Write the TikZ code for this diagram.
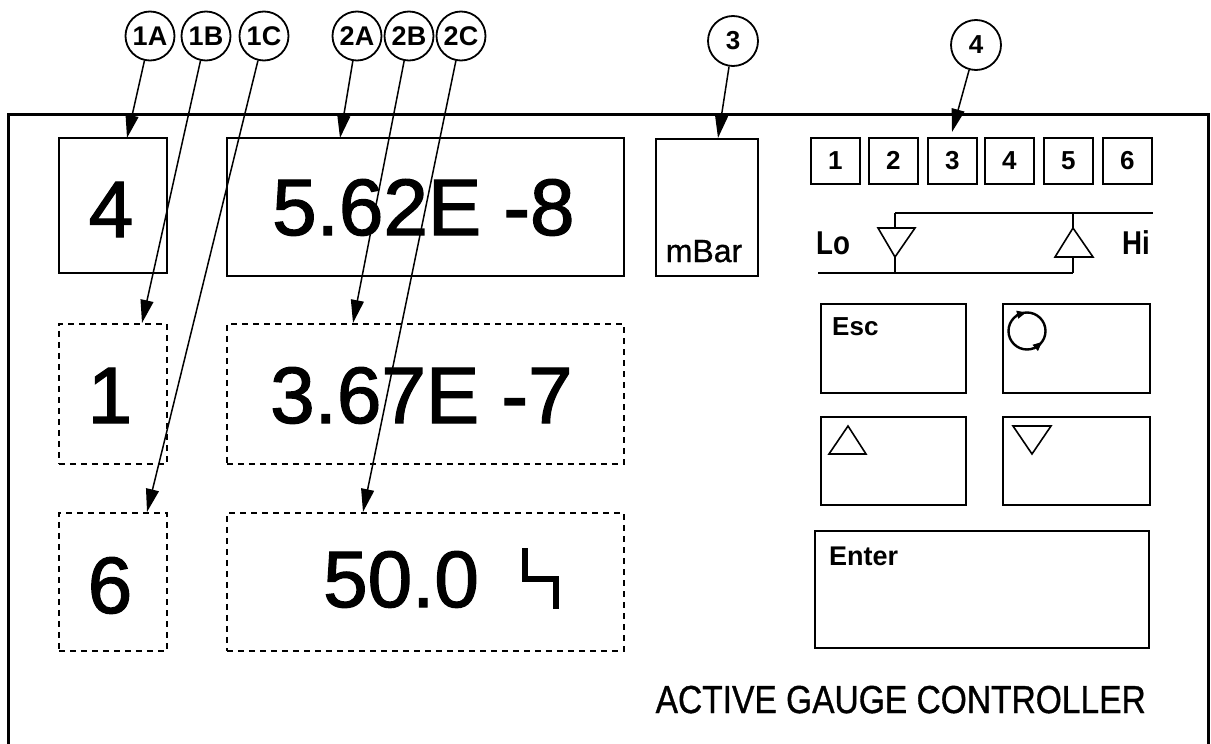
\documentclass[tikz,border=0pt]{standalone}
\usepackage{fontspec}
\setmainfont{Liberation Sans}
\newfontfamily\heavyfont{Liberation Sans}[RawFeature={embolden=1.6}]
\newfontfamily\midfont{Liberation Sans}[RawFeature={embolden=1.0}]
\usetikzlibrary{arrows.meta}
\begin{document}
\begin{tikzpicture}[x=1pt,y=-1pt,
  callout/.style={circle,draw,line width=1.8pt,minimum size=49pt,inner sep=0pt,font=\fontsize{27}{27}\selectfont\bfseries},
  bigcallout/.style={callout,minimum size=50pt,font=\fontsize{26}{26}\selectfont\bfseries},
  lead/.style={line width=1.5pt,-{Triangle[length=23pt,width=13pt]}},
  solidbox/.style={draw,line width=1.8pt,anchor=north west,inner sep=0pt},
  dotbox/.style={draw,line width=1.8pt,dash pattern=on 6pt off 5pt,anchor=north west,inner sep=0pt},
  keybox/.style={draw,line width=1.6pt,anchor=north west,inner sep=0pt},
  big/.style={font=\heavyfont\fontsize{80}{80}\selectfont,inner sep=0pt},
  thin/.style={line width=1.6pt},
]
\useasboundingbox (0,0) rectangle (1211,744);
% frame
\draw[line width=3pt] (8,744) -- (8,114) -- (1208,114) -- (1208,744);

% display boxes
\node[solidbox,minimum width=108pt,minimum height=135pt] (b1A) at (58,137) {};
\node[solidbox,minimum width=397pt,minimum height=138pt] (b2A) at (226,137) {};
\node[solidbox,minimum width=102pt,minimum height=137pt] (b3) at (655,138) {};
\node[dotbox,minimum width=108pt,minimum height=140pt] (b1B) at (58,323) {};
\node[dotbox,minimum width=397pt,minimum height=140pt] (b2B) at (226,323) {};
\node[dotbox,minimum width=108pt,minimum height=138pt] (b1C) at (58,512) {};
\node[dotbox,minimum width=397pt,minimum height=138pt] (b2C) at (226,512) {};

% display texts
\node[big,anchor=base] (v1A) at (111,237) {4};
\node[big,anchor=base west] (v2A) at (272,235) {5.62E -8};
\node[big,anchor=base] (v1B) at (110,423) {1};
\node[big,anchor=base west] (v2B) at (270,423) {3.67E -7};
\node[big,anchor=base] (v1C) at (110,613) {6};
\node[big,anchor=base west] (v2C) at (323,607) {50.0};
\draw[line width=6.5pt,miter limit=10] (525,548) -- (525,579) -- (556,579) -- (556,609);
\node[inner sep=0pt,anchor=base,font=\midfont\fontsize{32}{32}\selectfont] (unit) at (704,262) {mBar};

% channel keys
\foreach \i/\x in {1/810,2/868,3/927,4/984,5/1043,6/1102}
  \node[keybox,minimum width=49pt,minimum height=46pt,font=\fontsize{26}{26}\selectfont\bfseries] (k\i) at (\x,137) {\i};

% Lo / Hi
\draw[thin] (895,213) -- (1153,213);
\draw[thin] (895,213) -- (895,228);
\draw[thin] (878,228) -- (915,228) -- (895,257) -- cycle;
\draw[thin] (895,257) -- (895,273);
\draw[thin] (818,273) -- (1073,273);
\draw[thin] (1073,213) -- (1073,228);
\draw[thin] (1073,228) -- (1093,257) -- (1055,257) -- cycle;
\draw[thin] (1073,257) -- (1073,273);
\node[inner sep=0pt,anchor=base west] (lo) at (816,254) {\scalebox{0.84}[1]{\fontsize{33}{33}\selectfont\bfseries Lo}};
\node[inner sep=0pt,anchor=base west] (hi) at (1122,254) {\scalebox{0.84}[1]{\fontsize{33}{33}\selectfont\bfseries Hi}};

% buttons
\node[keybox,minimum width=145pt,minimum height=89pt] (esc) at (820,303) {};
\node[keybox,minimum width=147pt,minimum height=89pt] (cyc) at (1002,303) {};
\node[keybox,minimum width=145pt,minimum height=88pt] (up) at (820,416) {};
\node[keybox,minimum width=147pt,minimum height=88pt] (down) at (1002,416) {};
\node[keybox,minimum width=334pt,minimum height=117pt] (enter) at (814,530) {};
\node[inner sep=0pt,anchor=base west,font=\fontsize{26}{26}\selectfont\bfseries] (esct) at (832,335) {Esc};
\node[inner sep=0pt,anchor=base west,font=\fontsize{27}{27}\selectfont\bfseries] (entert) at (829,565) {Enter};
\draw[line width=2.4pt] (1027,331) circle (18.5);
\draw[line width=1pt,-{Triangle[length=9pt,width=8pt]}] (1016,315) -- (1026,312.5);
\draw[line width=1pt,-{Triangle[length=9pt,width=8pt]}] (1034,349) -- (1042,342);
\draw[thin] (829,454) -- (866,454) -- (848,426) -- cycle;
\draw[thin] (1013,426) -- (1051,426) -- (1032,454) -- cycle;

% title
\node[inner sep=0pt,anchor=base east] (title) at (1146,713) {\scalebox{0.86}[1]{\midfont\fontsize{39}{39}\selectfont ACTIVE GAUGE CONTROLLER}};

% callouts
\node[callout] (c1A) at (150,36) {1A};
\node[callout] (c1B) at (206,36) {1B};
\node[callout] (c1C) at (264,36) {1C};
\node[callout] (c2A) at (357,36) {2A};
\node[callout] (c2B) at (409,36) {2B};
\node[callout] (c2C) at (461,36) {2C};
\node[bigcallout] (c3) at (733,41) {3};
\node[bigcallout] (c4) at (976,45) {4};

\coordinate (t1A) at (127,138);
\coordinate (t1B) at (142,323);
\coordinate (t1C) at (147,512);
\coordinate (t2A) at (340,138);
\coordinate (t2B) at (353,323);
\coordinate (t2C) at (363,512);
\coordinate (t3) at (718,138);
\coordinate (t4) at (952,132);

\draw[lead] (c1A) -- (t1A);
\draw[lead] (c1B) -- (t1B);
\draw[lead] (c1C) -- (t1C);
\draw[lead] (c2A) -- (t2A);
\draw[lead] (c2B) -- (t2B);
\draw[lead] (c2C) -- (t2C);
\draw[lead] (c3) -- (t3);
\draw[lead] (c4) -- (t4);
\end{tikzpicture}
\end{document}
